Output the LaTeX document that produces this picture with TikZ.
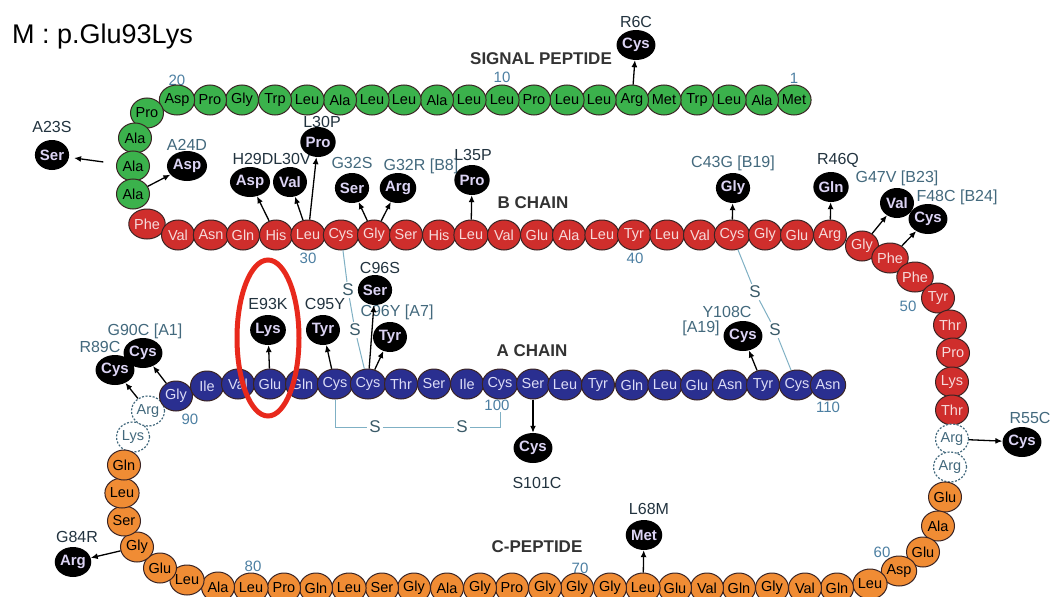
\documentclass[tikz,border=0pt]{standalone}
\usepackage{fontspec}
\setmainfont{Liberation Sans}
\usetikzlibrary{shapes.geometric,arrows.meta}
\definecolor{sigc}{HTML}{3BB24C}
\definecolor{bc}{HTML}{CF2E2C}
\definecolor{ac}{HTML}{2A2F90}
\definecolor{cc}{HTML}{F08C34}
\definecolor{edgec}{HTML}{3A2424}
\definecolor{btxt}{HTML}{F6DADA}
\definecolor{atxt}{HTML}{DCDCF6}
\definecolor{mtxt}{HTML}{DCD4F4}
\definecolor{labc}{HTML}{22333F}
\definecolor{slatec}{HTML}{43697D}
\definecolor{numc}{HTML}{4C7FA2}
\definecolor{chc}{HTML}{333333}
\definecolor{sslc}{HTML}{7FB0C4}
\definecolor{stc}{HTML}{3A5A68}
\definecolor{hlred}{HTML}{E8291C}
\newcommand\myfs[1]{\fontsize{#1}{#1}\selectfont}
\tikzset{
 res/.style={ellipse, minimum width=33pt, minimum height=30pt, inner sep=0pt, draw=edgec, line width=1pt, font=\myfs{14.5}},
 sigres/.style={res, fill=sigc, text=black},
 bres/.style={res, fill=bc, text=btxt},
 ares/.style={res, fill=ac, text=atxt},
 cres/.style={res, fill=cc, text=black},
 cleaved/.style={res, fill=white, draw=slatec, dash pattern=on 2pt off 1.6pt, line width=1.2pt, text=slatec},
 mutres/.style={ellipse, minimum width=34pt, minimum height=30pt, inner sep=0pt, fill=black, text=mtxt, font=\bfseries\myfs{15}},
 lab/.style={inner sep=0pt, text=labc, font=\myfs{16}},
 labs/.style={lab, text=slatec},
 numlab/.style={inner sep=0pt, text=numc, font=\myfs{15}},
 chainlab/.style={inner sep=0pt, text=chc, font=\bfseries\myfs{17}},
 arr/.style={draw=black, line width=1.3pt, -{Latex[length=7pt,width=6pt]}},
 sbond/.style={draw=sslc, line width=1pt},
 sul/.style={inner sep=2pt, text=stc, font=\myfs{17}},
 hlring/.style={draw=hlred, line width=5pt, ellipse, minimum width=62pt, minimum height=156pt, inner sep=0pt},
}
\begin{document}
\begin{tikzpicture}[x=1pt,y=-1pt]
\useasboundingbox (0,0) rectangle (1053,597);
\clip (0,0) rectangle (1053,597);
\fill[white] (0,0) rectangle (1053,597);
% title
\node[anchor=west, inner sep=0pt, font=\myfs{27}] (title) at (12,37) {M : p.Glu93Lys};
% chain labels
\node[chainlab] (tsig) at (541,59) {SIGNAL PEPTIDE};
\node[chainlab] (tb) at (533,203) {B CHAIN};
\node[chainlab] (ta) at (532,351) {A CHAIN};
\node[chainlab] (tc) at (537,547) {C-PEPTIDE};
% number labels
\node[numlab] (n20) at (177,80) {20};
\node[numlab] (n10) at (502,77) {10};
\node[numlab] (n1) at (794,78) {1};
\node[numlab] (n30) at (308,258) {30};
\node[numlab] (n40) at (635,258) {40};
\node[numlab] (n50) at (908,306) {50};
\node[numlab] (n60) at (882,552) {60};
\node[numlab] (n70) at (580,568) {70};
\node[numlab] (n80) at (253,566) {80};
\node[numlab] (n90) at (190,419) {90};
\node[numlab] (n100) at (497,405) {100};
\node[numlab] (n110) at (828,407) {110};
% disulfide bonds
\node[sul] (S1a) at (348,290) {S};
\node[sul] (S1b) at (355,330) {S};
\node[sul] (S2a) at (375,427) {S};
\node[sul] (S2b) at (462,427) {S};
\node[sul] (S3a) at (755,292) {S};
\node[sul] (S3b) at (775,330) {S};
\coordinate (k100) at (500,412);
% residues: signal peptide
\foreach \n/\x/\y/\t in {1/794/100/Met,2/762/100/Ala,3/729/100/Leu,4/697/100/Trp,5/664/100/Met,6/632/100/Arg,7/599/100/Leu,8/567/100/Leu,9/534/100/Pro,10/502/100/Leu,11/469/100/Leu,12/437/100/Ala,13/404/100/Leu,14/372/100/Leu,15/340/100/Ala,16/307/100/Leu,17/275/100/Trp,18/242/100/Gly,19/210/100/Pro,20/177/100/Asp,21/147/113/Pro,22/135/138/Ala,23/133/166/Ala,24/133/194/Ala}
  \node[sigres] (r\n) at (\x,\y) {\t};
% B chain
\foreach \n/\x/\y/\t in {25/147/224/Phe,26/178/235/Val,27/211/235/Asn,28/243/235/Gln,29/276/235/His,30/308/235/Leu,31/341/235/Cys,32/374/235/Gly,33/406/235/Ser,34/439/235/His,35/471/235/Leu,36/504/235/Val,37/537/235/Glu,38/569/235/Ala,39/602/235/Leu,40/634/235/Tyr,41/667/235/Leu,42/700/235/Val,43/732/235/Cys,44/765/235/Gly,45/797/235/Glu,46/830/235/Arg,47/862/246/Gly,48/890/258/Phe,49/915/277/Phe,50/938/298/Tyr,51/950/325/Thr,52/953/353/Pro,53/952/382/Lys,54/952/410/Thr}
  \node[bres] (r\n) at (\x,\y) {\t};
% cleaved residues
\foreach \n/\x/\y/\t in {55/952/439/Arg,56/950/467/Arg,88/133/437/Lys,89/148/411/Arg}
  \node[cleaved] (r\n) at (\x,\y) {\t};
% C peptide
\foreach \n/\x/\y/\t in {57/945/497/Glu,58/938/526/Ala,59/923/552/Glu,60/899/571/Asp,61/870/584/Leu,62/837/588/Gln,63/805/588/Val,64/772/588/Gly,65/739/588/Gln,66/707/588/Val,67/675/588/Glu,68/643/588/Leu,69/610/588/Gly,70/577/588/Gly,71/545/588/Gly,72/512/588/Pro,73/480/588/Gly,74/447/588/Ala,75/414/588/Gly,76/382/588/Ser,77/349/588/Leu,78/316/588/Gln,79/284/588/Pro,80/251/588/Leu,81/218/587/Ala,82/187/580/Leu,83/160/568/Glu,84/137/547/Gly,85/124/521/Ser,86/122/493/Leu,87/124/465/Gln}
  \node[cres] (r\n) at (\x,\y) {\t};
% A chain
\foreach \n/\x/\y/\t in {90/176/396/Gly,91/207/386/Ile,92/238/384/Val,93/270/384/Glu,94/302/384/Gln,95/335/384/Cys,96/368/384/Cys,97/401/384/Thr,98/434/384/Ser,99/467/384/Ile,100/500/384/Cys,101/533/384/Ser,102/565/385/Leu,103/598/385/Tyr,104/632/385/Gln,105/665/385/Leu,106/697/385/Glu,107/730/385/Asn,108/763/385/Tyr,109/797/385/Cys,110/828/385/Asn}
  \node[ares] (r\n) at (\x,\y) {\t};
% bond lines
\draw[sbond] (r31) -- (S1a);
\draw[sbond] (S1a) -- (S1b);
\draw[sbond] (S1b) -- (r96);
\draw[sbond] (r95.south) |- (S2a);
\draw[sbond] (S2a) -- (S2b);
\draw[sbond] (S2b) -| (k100);
\draw[sbond] (r43) -- (S3a);
\draw[sbond] (S3a) -- (S3b);
\draw[sbond] (S3b) -- (r109);
% mutation labels
\node[lab] (l6) at (636,22) {R6C};
\node[lab] (l23) at (52,127) {A23S};
\node[labs] (l24) at (187,145) {A24D};
\node[lab] (l29) at (253,159) {H29D};
\node[lab] (l30v) at (292,159) {L30V};
\node[lab] (l30p) at (322,122) {L30P};
\node[labs] (l32s) at (352,163) {G32S};
\node[labs] (l32r) at (421,166) {G32R [B8]};
\node[lab] (l35) at (473,155) {L35P};
\node[labs] (l43) at (733,163) {C43G [B19]};
\node[lab] (l46) at (838,160) {R46Q};
\node[labs] (l47) at (897,178) {G47V [B23]};
\node[labs] (l48) at (957,197) {F48C [B24]};
\node[labs] (l55) at (1030,418) {R55C};
\node[labs] (l108) at (727,312) {Y108C};
\node[labs] (l108b) at (701,328) {[A19]};
\node[lab] (l101) at (537,483) {S101C};
\node[lab] (l68) at (649,509) {L68M};
\node[lab] (l84) at (77,537) {G84R};
\node[labs] (l89) at (100,347) {R89C};
\node[labs] (l90) at (145,331) {G90C [A1]};
\node[lab] (l93) at (268,304) {E93K};
\node[lab] (l95) at (325,304) {C95Y};
\node[lab] (l96s) at (380,268) {C96S};
\node[labs] (l96y) at (397,312) {C96Y [A7]};
% mutant residues
\node[mutres] (m6) at (636,45) {Cys};
\node[mutres] (m23) at (52,155) {Ser};
\node[mutres] (m24) at (187,166) {Asp};
\node[mutres] (m29) at (250,182) {Asp};
\node[mutres] (m30v) at (290,182) {Val};
\node[mutres] (m30p) at (318,142) {Pro};
\node[mutres] (m32s) at (352,188) {Ser};
\node[mutres] (m32r) at (398,188) {Arg};
\node[mutres] (m35) at (472,180) {Pro};
\node[mutres] (m43) at (733,188) {Gly};
\node[mutres] (m46) at (831,187) {Gln};
\node[mutres] (m47) at (897,203) {Val};
\node[mutres] (m48) at (928,219) {Cys};
\node[mutres] (m55) at (1022,442) {Cys};
\node[mutres] (m108) at (743,336) {Cys};
\node[mutres] (m101) at (533,448) {Cys};
\node[mutres] (m68) at (644,535) {Met};
\node[mutres] (m84) at (73,562) {Arg};
\node[mutres] (m89) at (115,370) {Cys};
\node[mutres] (m90) at (143,353) {Cys};
\node[mutres] (m93) at (268,330) {Lys};
\node[mutres] (m95) at (323,330) {Tyr};
\node[mutres] (m96s) at (375,290) {Ser};
\node[mutres] (m96y) at (390,337) {Tyr};
% arrows
\draw[arr] (r6) -- (m6);
\draw[arr, shorten <=13pt, shorten >=5pt] (r23) -- (m23);
\draw[arr] (r24) -- (m24);
\draw[arr] (r29) -- (m29);
\draw[arr] (r30) -- (m30v);
\draw[arr] (r30) -- (m30p);
\draw[arr] (r32) -- (m32s);
\draw[arr] (r32) -- (m32r);
\draw[arr] (r35) -- (m35);
\draw[arr] (r43) -- (m43);
\draw[arr] (r46) -- (m46);
\draw[arr] (r47) -- (m47);
\draw[arr] (r48) -- (m48);
\draw[arr] (r55) -- (m55);
\draw[arr] (r108) -- (m108);
\draw[arr] (r101) -- (m101);
\draw[arr] (r68) -- (m68);
\draw[arr] (r84) -- (m84);
\draw[arr] (r89) -- (m89);
\draw[arr] (r90) -- (m90);
\draw[arr] (r93) -- (m93);
\draw[arr] (r95) -- (m95);
\draw[arr] (r96) -- (m96s);
\draw[arr] (r96) -- (m96y);
% highlight
\node[hlring] (hl) at (268,338) {};
\end{tikzpicture}
\end{document}
